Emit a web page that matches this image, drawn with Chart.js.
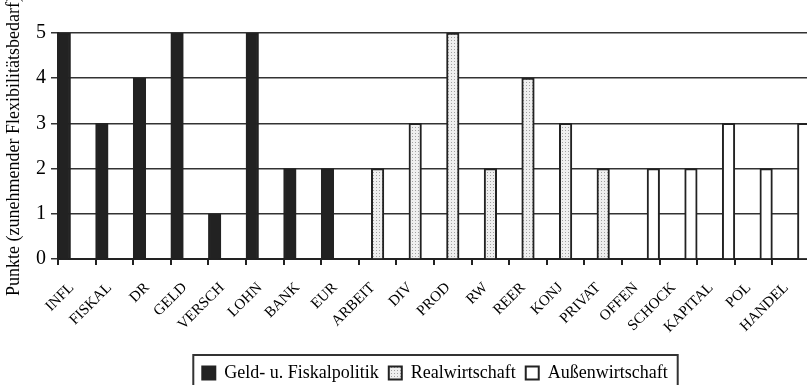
<!DOCTYPE html>
<html lang="de">
<head>
  <meta charset="UTF-8">
  <title>Flexibilitätsbedarf nach Kriterien</title>
  <script src="https://cdn.jsdelivr.net/npm/chart.js"></script>
  <style>
    html, body { margin: 0; padding: 0; background: #fff; overflow: hidden; }
    canvas { display: block; }
  </style>
</head>
<body>
  <canvas id="grafik" width="870" height="392"></canvas>

  <script>
    // Kriterien und Punkte je Bereich
    const kriterien = ['INFL', 'FISKAL', 'DR', 'GELD', 'VERSCH', 'LOHN', 'BANK', 'EUR',
      'ARBEIT', 'DIV', 'PROD', 'RW', 'REER', 'KONJ', 'PRIVAT',
      'OFFEN', 'SCHOCK', 'KAPITAL', 'POL', 'HANDEL'];
    const geldFiskal = [5, 3, 4, 5, 1, 5, 2, 2, null, null, null, null, null, null, null, null, null, null, null, null];
    const realwirtschaft = [null, null, null, null, null, null, null, null, 2, 3, 5, 2, 4, 3, 2, null, null, null, null, null];
    const aussenwirtschaft = [null, null, null, null, null, null, null, null, null, null, null, null, null, null, null, 2, 2, 3, 2, 3];
    const punkteTicks = [0, 1, 2, 3, 4, 5];

    const schrift = "'Liberation Serif', 'Times New Roman', serif";

    // gepunktetes Muster für Realwirtschaft
    function punktMuster() {
      const c = document.createElement('canvas');
      c.width = 3; c.height = 3;
      const g = c.getContext('2d');
      g.fillStyle = '#efefef';
      g.fillRect(0, 0, 3, 3);
      g.fillStyle = '#a0a0a0';
      g.fillRect(1, 1, 1, 1);
      return g.createPattern(c, 'repeat');
    }

    // Legende nach rechts schieben und einrahmen
    const legendenRahmen = {
      id: 'legendenRahmen',
      afterLayout(chart) {
        chart.legend.left += 30;
        chart.legend.right += 30;
      },
      afterDraw(chart) {
        const lg = chart.legend;
        const boxes = lg.legendHitBoxes;
        if (!boxes || !boxes.length) return;
        const first = boxes[0], last = boxes[boxes.length - 1];
        const ctx = chart.ctx;
        ctx.save();
        ctx.strokeStyle = '#333';
        ctx.lineWidth = 2;
        ctx.strokeRect(first.left - 9, lg.top + 1, last.left + last.width - first.left + 19, 42);
        ctx.restore();
      }
    };

    const gemeinsam = {
      borderColor: '#222',
      borderWidth: 2,
      barPercentage: 1,
      categoryPercentage: 1
    };

    new Chart(document.getElementById('grafik').getContext('2d'), {
      type: 'bar',
      data: {
        labels: kriterien,
        datasets: [
          Object.assign({ label: 'Geld- u. Fiskalpolitik', data: geldFiskal, backgroundColor: '#222' }, gemeinsam),
          Object.assign({ label: 'Realwirtschaft', data: realwirtschaft, backgroundColor: punktMuster() }, gemeinsam),
          Object.assign({ label: 'Außenwirtschaft', data: aussenwirtschaft, backgroundColor: '#fff' }, gemeinsam)
        ]
      },
      options: {
        responsive: false,
        animation: false,
        layout: { padding: { top: 33, right: 60, left: 0, bottom: 0 } },
        plugins: {
          tooltip: { enabled: false },
          legend: {
            position: 'bottom',
            labels: {
              color: '#000',
              font: { family: schrift, size: 18 },
              boxWidth: 13,
              boxHeight: 13,
              padding: 10
            }
          }
        },
        scales: {
          x: {
            offset: true,
            afterFit(scale) { scale.height = 95; },
            border: { display: true, color: '#222', width: 2 },
            grid: { offset: true, drawOnChartArea: false, drawTicks: true, tickLength: 6, color: '#222', lineWidth: 2 },
            ticks: {
              color: '#000',
              font: { family: schrift, size: 15 },
              minRotation: 45,
              maxRotation: 45,
              autoSkip: false,
              padding: 14,
              labelOffset: -5
            }
          },
          y: {
            min: 0,
            max: 5,
            afterFit(scale) { scale.width = 58; },
            afterBuildTicks(scale) { scale.ticks = punkteTicks.map(v => ({ value: v })); },
            border: { display: true, color: '#222', width: 2 },
            grid: { color: '#333', lineWidth: 1.5, tickLength: 7 },
            ticks: {
              color: '#000',
              font: { family: schrift, size: 20 },
              padding: 5
            },
            title: {
              display: true,
              text: 'Punkte (zunehmender Flexibilitätsbedarf)',
              color: '#000',
              font: { family: schrift, size: 18 },
              padding: { top: 3, bottom: 0 }
            }
          }
        }
      },
      plugins: [legendenRahmen]
    });
  </script>
</body>
</html>
